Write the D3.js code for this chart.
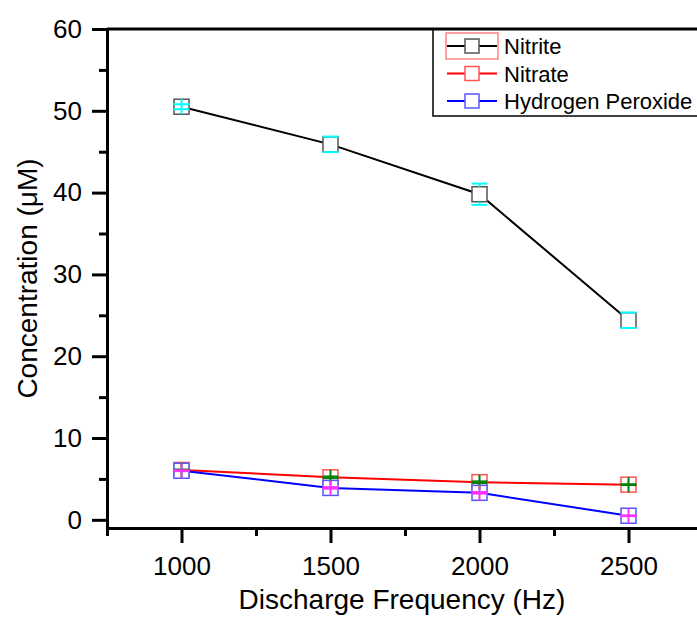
<!DOCTYPE html>
<html>
<head>
<meta charset="utf-8">
<script src="https://cdn.jsdelivr.net/npm/d3@7"></script>
<style>
body { margin: 0; background: #fff; }
svg { display: block; font-family: "Liberation Sans", Arial, sans-serif; }
</style>
</head>
<body>
<script>
var frequencies = [1000, 1500, 2000, 2500];
var nitrite = [50.5, 45.9, 39.8, 24.4];
var nitriteErr = [0.3, 0.95, 1.3, 0.95];
var nitrate = [6.1, 5.2, 4.6, 4.3];
var nitrateErr = [0.05, 0.1, 0.1, 0.05];
var peroxide = [6.0, 3.9, 3.3, 0.5];
var peroxideErr = [0.05, 0.1, 0.1, 0.05];
var xTicks = [1000, 1500, 2000, 2500];
var xMinor = [750, 1250, 1750, 2250, 2750];
var yTicks = [0, 10, 20, 30, 40, 50, 60];
var yMinor = [5, 15, 25, 35, 45, 55];

var series = [
    {name: "Nitrite", values: nitrite, err: nitriteErr, line: "#000", marker: "#555", bar: "#00ffff"},
    {name: "Nitrate", values: nitrate, err: nitrateErr, line: "#ff0000", marker: "#ff5555", bar: "#008000"},
    {name: "Hydrogen Peroxide", values: peroxide, err: peroxideErr, line: "#0000ff", marker: "#5555ff", bar: "#ff33ff"}
];

var margin = {top: 29, left: 107};
var width = 596, height = 499;

var svg = d3.select("body").append("svg")
    .attr("width", 697)
    .attr("height", 617)
    .append("g")
    .attr("transform", "translate(" + margin.left + "," + margin.top + ")");

var xScale = d3.scaleLinear().domain([750, 2750]).range([0, width]);
var yScale = d3.scaleLinear().domain([-1, 60]).range([height, 0]);

// axes
svg.append("g")
    .attr("transform", "translate(0," + height + ")")
    .call(d3.axisBottom(xScale).tickValues(xTicks).tickFormat(d3.format("d"))
        .tickSize(15).tickPadding(14).tickSizeOuter(0));
svg.append("g")
    .attr("transform", "translate(0," + height + ")")
    .call(d3.axisBottom(xScale).tickValues(xMinor).tickSize(8).tickFormat("").tickSizeOuter(0));
svg.append("g")
    .call(d3.axisLeft(yScale).tickValues(yTicks).tickSize(15).tickPadding(10).tickSizeOuter(0));
svg.append("g")
    .call(d3.axisLeft(yScale).tickValues(yMinor).tickSize(8).tickFormat("").tickSizeOuter(0));

svg.selectAll(".domain").attr("stroke", "#000").attr("stroke-width", 3);
svg.selectAll(".tick line").attr("stroke", "#000").attr("stroke-width", 3);
svg.selectAll(".tick text")
    .attr("fill", "#000")
    .style("font-size", "26px")
    .style("font-family", "'Liberation Sans', Arial, sans-serif");

// lines
var line = d3.line()
    .x(function(d, i) { return xScale(frequencies[i]); })
    .y(function(d) { return yScale(d); });

svg.selectAll(".series-line")
    .data(series)
    .enter()
    .append("path")
    .attr("class", "series-line")
    .attr("d", function(d) { return line(d.values); })
    .attr("fill", "none")
    .attr("stroke", function(d) { return d.line; })
    .attr("stroke-width", 2);

var ms = 15, half = ms / 2, capW = 16;

series.forEach(function(s) {
    var g = svg.append("g");
    s.values.forEach(function(v, i) {
        var cx = xScale(frequencies[i]), cy = yScale(v);
        g.append("rect")
            .attr("x", cx - half).attr("y", cy - half)
            .attr("width", ms).attr("height", ms)
            .attr("fill", "#fff")
            .attr("stroke", s.marker)
            .attr("stroke-width", 1.5);
    });
});

// error bars over markers
series.forEach(function(s) {
    var g = svg.append("g").attr("stroke", s.bar).attr("stroke-width", 2);
    s.values.forEach(function(v, i) {
        var cx = xScale(frequencies[i]), cy = yScale(v);
        var hi = yScale(v + s.err[i]), lo = yScale(v - s.err[i]);
        var e = cy - hi;
        if (e < half) {
            g.append("line").attr("x1", cx).attr("x2", cx).attr("y1", cy - half).attr("y2", cy + half);
        } else {
            g.append("line").attr("x1", cx).attr("x2", cx).attr("y1", hi).attr("y2", cy - half);
            g.append("line").attr("x1", cx).attr("x2", cx).attr("y1", cy + half).attr("y2", lo);
        }
        g.append("line").attr("x1", cx - capW / 2).attr("x2", cx + capW / 2).attr("y1", hi).attr("y2", hi);
        g.append("line").attr("x1", cx - capW / 2).attr("x2", cx + capW / 2).attr("y1", lo).attr("y2", lo);
    });
});

// axis titles
svg.append("text")
    .attr("x", xScale(1750) - 3)
    .attr("y", height + 81)
    .attr("text-anchor", "middle")
    .style("font-size", "28px")
    .text("Discharge Frequency (Hz)");

svg.append("text")
    .attr("transform", "rotate(-90)")
    .attr("x", -(yScale(29.5)))
    .attr("y", -margin.left + 37)
    .attr("text-anchor", "middle")
    .style("font-size", "28px")
    .text("Concentration (\u03bcM)");

// legend
var legend = svg.append("g").attr("transform", "translate(" + (433 - margin.left) + ",0)");
legend.append("rect")
    .attr("x", 0).attr("y", 0)
    .attr("width", 300).attr("height", 87)
    .attr("fill", "#fff")
    .attr("stroke", "#000")
    .attr("stroke-width", 1.5);

// top frame line
svg.append("line")
    .attr("x1", 0).attr("x2", width)
    .attr("y1", 0).attr("y2", 0)
    .attr("stroke", "#000").attr("stroke-width", 3);

// selection highlight around the first legend symbol
legend.append("rect")
    .attr("x", 13).attr("y", 4)
    .attr("width", 52).attr("height", 26)
    .attr("fill", "none")
    .attr("stroke", "#ff6666")
    .attr("stroke-width", 1.2);

var legendScale = d3.scaleLinear().domain([0, 2]).range([17, 72]);

series.forEach(function(s, i) {
    var y = legendScale(i);
    legend.append("line")
        .attr("x1", 14).attr("x2", 64)
        .attr("y1", y).attr("y2", y)
        .attr("stroke", s.line).attr("stroke-width", 2);
    legend.append("rect")
        .attr("x", 32).attr("y", y - 7)
        .attr("width", 14).attr("height", 14)
        .attr("fill", "#fff")
        .attr("stroke", s.marker)
        .attr("stroke-width", 1.5);
    legend.append("text")
        .attr("x", 71)
        .attr("y", y + 8)
        .style("font-size", "22px")
        .text(s.name);
});
</script>
</body>
</html>
